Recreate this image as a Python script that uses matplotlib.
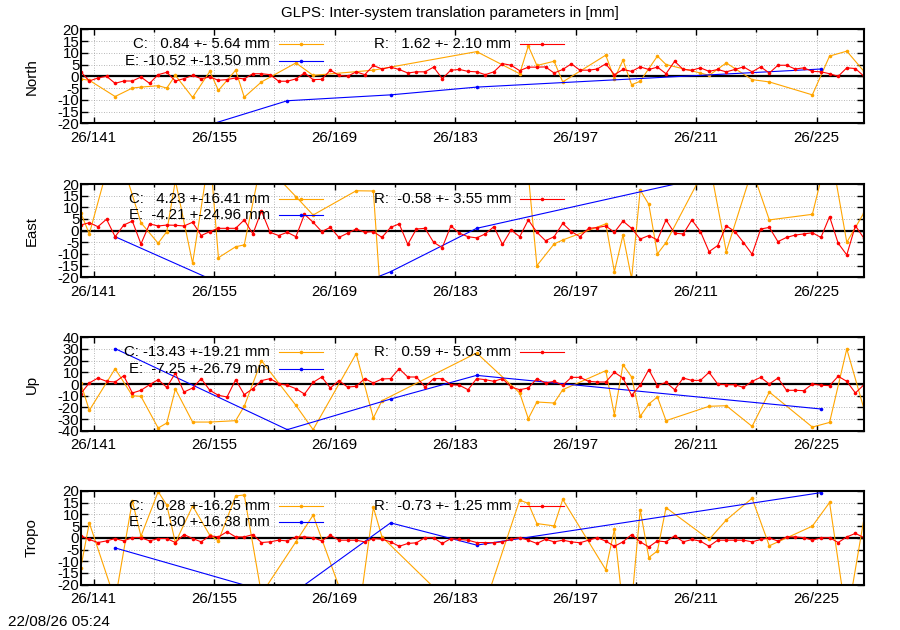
import matplotlib
matplotlib.use("Agg")
import matplotlib.pyplot as plt
import numpy as np

plt.rcParams["font.family"] = ["Liberation Sans", "DejaVu Sans"]
plt.rcParams["font.size"] = 10.8

ORANGE = "#ffa500"
BLUE = "#0000ff"
RED = "#ff0000"

# daily solutions, day of year 139 .. 230 (plotted at noon)
days = np.arange(139, 231)

# epochs of the E series (same for all components)
e_days = [143, 163, 175, 185, 225]

# ---- North ----
north_r = [2, -2, -0.7, 0, -3, -2, -2, -0.3, -3, 0.7, 1.7, -2, -1, 0.4, -1, -0.3,
           -1.7, -1.4, -0.7, -1.1, 1.1, 1.1, 0.7, -2.1, -2.1, -1.1, 1.4, -1.4, -1.3,
           2.6, 0.4, 0, 1.9, 0.7, 4.6, 3.1, 3.9, 2.9, 1.4, 1.9, 1.9, 3.9, -1, 2.6, 2.9,
           2.1, 1.9, 0.7, 1.9, 5.4, 4.7, 2.4, 3.9, 3.9, 4, 1.4, 2.9, 5.3, 2.6, 2.6, 3.1,
           5.3, 0.7, 2.9, 2.1, 4, 2.9, 3.9, 1.1, 6.4, 2.9, 2.6, 3.6, 2.1, 2.9, 1.9, 2.9,
           4, 1.9, 4, 1.4, 4.7, 4.7, 3.1, 3.6, 2.1, 1.9, 1.1, 0, 3.6, 3.3, 0]
north_c_days = [139, 140, 143, 145, 146, 148, 149, 150, 152, 154, 155, 157, 158, 160,
                164, 166, 173, 185, 190, 191, 192, 194, 195, 200, 201, 202, 203, 204,
                206, 207, 211, 212, 214, 215, 217, 219, 224, 226, 228, 230]
north_c = [-1.1, -1.7, -8.6, -5, -4.6, -4, -5, 0.4, -9, 2.1, -6, 2.6, -8.9, -2.4,
           5.7, 0.4, 2.6, 10.5, 1.1, 12.9, 4.6, 6.4, -2.4, 9, -1, 6.9, -3.6, -2.1,
           8.6, 5, 1.4, 0.4, 5.7, 3.3, -1.4, -2.4, -7.9, 8.6, 10.7, 2.1]
north_e = [-33, -10.4, -7.9, -4.6, 3.1]
north_stats = {"C": (0.84, 5.64), "E": (-10.52, 13.50), "R": (1.62, 2.10)}

# ---- East ----
east_r = [2.4, 3.4, 1.7, 4.9, -2.6, 2.4, 4.1, -5.7, 2.9, 2, 2.4, 2.3, 2, 3.6, -2.1,
          -0.4, 1, 1, 1, 4.6, -1.4, 8.4, -0.7, -2.1, -0.7, -2.6, 7, 3.6, -0.4, 1.4,
          -2.9, -1.1, 0.7, -0.7, -0.4, -2.9, 1.4, 2.9, -5.9, 0.7, 1, -5, -7.3, 2,
          -1.1, -2.6, -3.1, -1.4, 1.7, -5.9, 0.3, -2.6, 4.6, -0.7, -4.3, -2.6, 3.1,
          -0.4, -2.6, 1, 1.3, 2, -0.7, 4.1, 1, -3.6, -2.1, -4, 4.6, -1.1, -1.4, 4.6,
          -0.4, -9, -6.4, 2.1, -0.4, -5.1, -10.1, 0.7, 1.4, -4.7, -2.9, -1.9, -1.4,
          -0.9, -2.9, 6, -5.4, -10.4, 2.1, -3.3]
east_c_days = [139, 140, 143, 146, 148, 149, 150, 152, 154, 155, 157, 158, 160, 164,
               166, 171, 173, 174, 185, 191, 192, 194, 195, 200, 201, 202, 203, 204,
               205, 206, 207, 211, 212, 214, 217, 219, 224, 226, 228, 230]
east_c = [7.7, -1.4, 39, 3.4, -5.4, -0.4, 21.5, -14, 34, -11.6, -6.9, -6.1, 30, 14.6,
          6.7, 17.1, 17, -37, -40, 24, -15, -5.7, -4, 2.9, -17.6, -1.9, -20.6, 17.4,
          11.3, -10, -5.1, 23, 30, -9, 26, 4.6, 7, 37, -5, 7.7]
east_e = [-2.6, -35.4, -17.6, 1.0, 33.9]
east_stats = {"C": (4.23, 16.41), "E": (-4.21, 24.96), "R": (-0.58, 3.55)}

# ---- Up ----
up_r = [-8.3, 0.9, 5.1, 2.3, 1.7, 7.1, -7.7, -5.4, -0.6, 3.7, -2.9, 9.4, -6.9, -3.4,
        4.6, -5.4, -9.7, -11.1, 3.7, -9.1, -4, 2.9, 4.6, 0.3, -1.1, -4, -8.6, 1.4, 6,
        -3.4, 2.9, -2.6, -2, 4.6, 0.9, 4.3, 4.6, 13.1, 6, 6, -2.6, 4.6, 4.6, -0.6,
        -1.1, -4.9, 4.6, 3.7, 2.3, 4.6, -2.6, -4.9, -3.4, 4.6, 0.9, 2.3, -1.1, 5.7,
        5.7, 2.3, 1.7, 1.7, 10, 5.1, -9.7, -1.1, 12.3, -1.4, 1.4, -4.9, 5.1, 3.1, 3.1,
        10, 0, -0.6, -0.6, -2.9, 2.3, 5.7, 0, 5.1, -5.4, -5.4, -5.7, 0, -1.1, -1.4,
        6.6, 2.3, -7.7, -0.6]
up_c_days = [139, 140, 143, 145, 146, 148, 149, 150, 152, 154, 157, 158, 160, 164,
             166, 171, 173, 174, 185, 190, 191, 192, 194, 195, 200, 201, 202, 203,
             204, 205, 206, 207, 212, 214, 217, 219, 224, 226, 228, 230]
up_c = [0.9, -22.6, 13.1, -10, -10.6, -37.7, -33.4, -4.3, -32.6, -32.6, -31.4, -19.1,
        20, -18.3, -39.1, 26, -29.1, -14.3, 26.6, -7.7, -29.7, -15.4, -16.3, -4.9,
        11.4, -26.3, 16.6, 6, -27.7, -17.1, -11.1, -31.4, -19.1, -18.6, -36.3, -6.9,
        -36.9, -32.9, 30, -21.4]
up_e = [30.3, -39.1, -12.9, 7.4, -21.4]
up_stats = {"C": (-13.43, 19.21), "E": (-7.25, 26.79), "R": (0.59, 5.03)}

# ---- Tropo ----
tropo_r = [0.9, -0.7, -2, -1.3, -0.3, -1.3, 0.1, 0.1, -1.3, -0.3, -0.3, -2, 1.4,
           -0.3, -1.7, 0.9, 0.4, 2.6, 0.4, 0.4, 1.4, -2, -1.7, -1, -1.3, 0.4, 0.4,
           0.1, -1.3, 1.1, -1, -1, -1, -1.7, -0.3, -0.6, -1.7, -3.6, -2.4, -2.1, 0.1,
           0, -2.4, -0.3, -0.7, -1, -2, -2, -2.1, -1.7, -0.6, 0.1, -1, -2.4, -0.6,
           -1.7, -1, -1.7, -2.1, -1, 0.1, -1.4, -3.6, -1.7, 1.4, -1.7, -3.9, -1.3,
           -1.7, 0.9, -1.7, -0.7, -1.4, -3.6, -1, -1, -1, -1, -1.7, -0.7, 0, -1.4,
           0.4, 0.4, 0.1, -1, 0, 0.1, -2, 0.4, 1.9, 0.1]
tropo_c_days = [139, 140, 143, 145, 146, 148, 149, 150, 152, 154, 155, 157, 158, 160,
                164, 166, 171, 173, 174, 185, 190, 191, 192, 194, 195, 200, 201, 202,
                203, 204, 205, 206, 207, 212, 214, 217, 219, 224, 226, 228, 230]
tropo_c = [-12.9, 6.4, -26.7, 15.7, 0.7, 19.7, 14, -2.1, 13.6, 1.1, -1.3, 17.9, 18.3,
           -24, -1.7, 9.7, -41, 13, 0.4, -39, 16.1, 14.7, 6.1, 5.1, 16.4, -13.6, 3.6,
           -30, -28, 11.9, -8.4, -5.6, 12.9, -0.7, 7.6, 16.9, -3.4, 5, 15.1, -35, 8.3]
tropo_e = [-4.3, -25.4, 6.4, -3.1, 19.3]
tropo_stats = {"C": (0.28, 16.25), "E": (-1.30, 16.38), "R": (-0.73, 1.25)}

panels = [
    ("North", 20, 5, north_r, north_c_days, north_c, north_e, north_stats, (29.3, 123.3)),
    ("East", 20, 5, east_r, east_c_days, east_c, east_e, east_stats, (184.0, 277.3)),
    ("Up", 40, 10, up_r, up_c_days, up_c, up_e, up_stats, (337.3, 430.7)),
    ("Tropo", 20, 5, tropo_r, tropo_c_days, tropo_c, tropo_e, tropo_stats, (491.0, 584.7)),
]

major_days = list(range(141, 226, 14))
minor_days = list(range(148, 226, 14))


def gp_clip(x, y, lo, hi):
    """Like gnuplot: no segment is drawn between two points both out of range."""
    x = np.asarray(x, float) + 0.5
    y = np.asarray(y, float)
    out = (y < lo) | (y > hi)
    xs, ys = [x[0]], [y[0]]
    for k in range(1, len(x)):
        if out[k] and out[k - 1]:
            xs.append(np.nan)
            ys.append(np.nan)
        xs.append(x[k])
        ys.append(y[k])
    return xs, ys


W, H = 900, 630
fig = plt.figure(figsize=(W / 100, H / 100), dpi=100)
left_px, right_px = 80.7, 864.0

line_kw = dict(lw=0.8, marker="o", ms=2.6, mew=0)

for name, lim, step, r, c_days, c, e, stats, (top_px, bot_px) in panels:
    ax = fig.add_axes([left_px / W, 1 - bot_px / H,
                       (right_px - left_px) / W, (bot_px - top_px) / H])
    ax.set_xlim(139.5, 230.5)
    ax.set_ylim(-lim, lim)

    ax.set_xticks(major_days)
    ax.set_xticks(minor_days, minor=True)
    ax.set_xticklabels(["26/%03d" % d for d in major_days])
    ax.set_yticks(np.arange(-lim, lim + 1, step))
    ax.set_yticklabels(["%d" % v for v in np.arange(-lim, lim + 1, step)])
    ax.tick_params(axis="both", which="both", direction="in", top=True, right=True,
                   width=1.0, color="black")
    ax.tick_params(axis="x", which="major", length=4.5, pad=5.5)
    ax.tick_params(axis="x", which="minor", length=2.5)
    ax.tick_params(axis="y", which="major", length=5, pad=1)

    ax.grid(True, which="both", axis="x", color="#a0a0a0", lw=0.6, ls=(0, (1, 2)))
    ax.grid(True, which="major", axis="y", color="#a0a0a0", lw=0.6, ls=(0, (1, 2)))
    ax.set_axisbelow(True)
    for sp in ax.spines.values():
        sp.set_linewidth(1.5)

    ax.axhline(0, color="black", lw=1.6, zorder=1.5)

    ax.plot(*gp_clip(c_days, c, -lim, lim), color=ORANGE, zorder=2, **line_kw)
    ax.plot(*gp_clip(e_days, e, -lim, lim), color=BLUE, zorder=2.1, **line_kw)
    ax.plot(*gp_clip(days, r, -lim, lim), color=RED, zorder=2.2, **line_kw)

    ax.set_ylabel(name)
    # fixed pixel column for the y label
    ax.yaxis.set_label_coords((39 - left_px) / (right_px - left_px), 0.5)

    # key, written like gnuplot's: text right-justified, then a sample
    h = bot_px - top_px
    rows = [("C", ORANGE, 0.2417, 15.0), ("E", BLUE, 0.2417, 31.4),
            ("R", RED, 0.5498, 15.0)]
    for key, col, tx, dy in rows:
        m, s = stats[key]
        y = 1 - dy / h
        ax.text(tx, y, "%s: %6.2f +-%5.2f mm" % (key, m, s), transform=ax.transAxes,
                ha="right", va="center")
        x0 = tx + 0.0111
        x1 = x0 + 0.0565
        ax.plot([x0, x1], [y, y], color=col, lw=0.8, transform=ax.transAxes,
                clip_on=False, zorder=3)
        ax.plot([(x0 + x1) / 2], [y], color=col, marker="o", ms=2.6, mew=0,
                transform=ax.transAxes, clip_on=False, zorder=3)

fig.text(450 / W, 1 - 13 / H, "GLPS: Inter-system translation parameters in [mm]",
         ha="center", va="center")
fig.text(8 / W, 1 - 622 / H, "22/08/26 05:24", ha="left", va="center", fontsize=11)

fig.savefig("out.png", dpi=100)
